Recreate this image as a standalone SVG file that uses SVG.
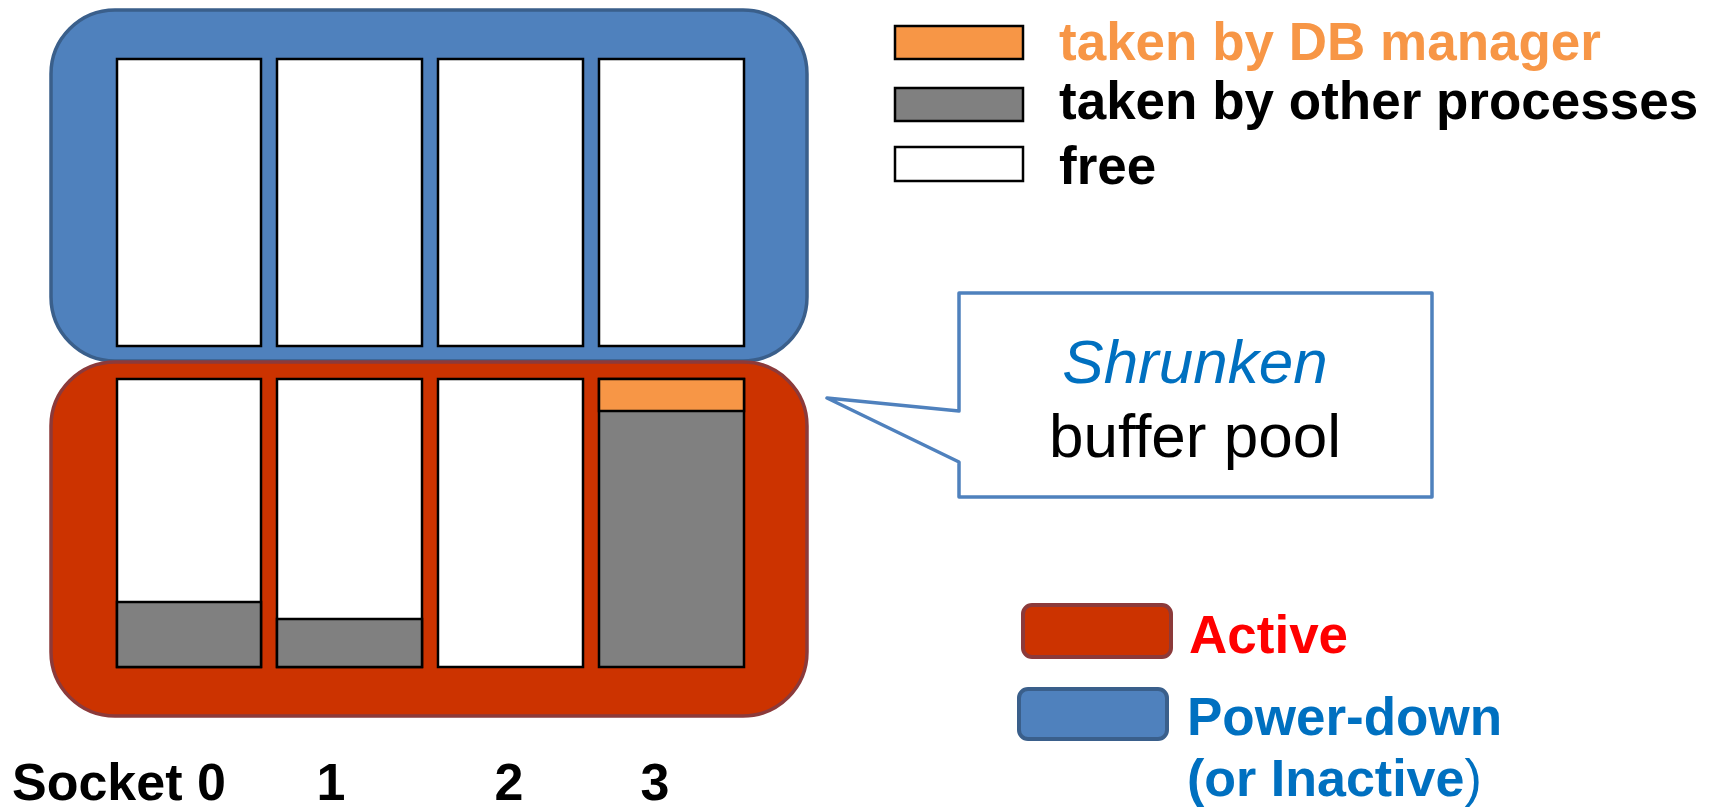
<svg xmlns="http://www.w3.org/2000/svg" width="1714" height="808" viewBox="0 0 1714 808">
<style>
.bar{stroke:#000;stroke-width:2.5}
.free{fill:#fff}
.other{fill:#808080}
.db{fill:#F79646}
.lbl{font-family:"Liberation Sans",Arial,sans-serif;font-weight:bold;font-size:53px}
.sock{font-family:"Liberation Sans",Arial,sans-serif;font-weight:bold;font-size:52px}
.call{font-family:"Liberation Sans",Arial,sans-serif;font-size:62px}
</style>
<rect width="1714" height="808" fill="#fff"/>
<g id="powerdown-region">
<rect x="51" y="10" width="756" height="351" rx="64" ry="64" fill="#4F81BD" stroke="#3A5F8B" stroke-width="3.5"/>
<rect class="bar free" x="117" y="59" width="144" height="287"/>
<rect class="bar free" x="277" y="59" width="145" height="287"/>
<rect class="bar free" x="438" y="59" width="145" height="287"/>
<rect class="bar free" x="599" y="59" width="145" height="287"/>
</g>
<g id="active-region">
<rect x="51" y="362" width="756" height="354" rx="64" ry="64" fill="#CC3300" stroke="#8C3A3A" stroke-width="3.5"/>
<rect class="bar free" x="117" y="379" width="144" height="288"/>
<rect class="bar other" x="117" y="602" width="144" height="65"/>
<rect class="bar free" x="277" y="379" width="145" height="288"/>
<rect class="bar other" x="277" y="619" width="145" height="48"/>
<rect class="bar free" x="438" y="379" width="145" height="288"/>
<rect class="bar other" x="599" y="379" width="145" height="288"/>
<rect class="bar db" x="599" y="379" width="145" height="32"/>
</g>
<g id="legend-usage">
<rect class="bar db" x="895" y="26" width="128" height="33"/>
<rect class="bar other" x="895" y="88" width="128" height="33"/>
<rect class="bar free" x="895" y="147" width="128" height="34"/>
<text class="lbl" x="1059" y="60" fill="#F79646">taken by DB manager</text>
<text class="lbl" x="1059" y="119" fill="#000">taken by other processes</text>
<text class="lbl" x="1059" y="184" fill="#000">free</text>
</g>
<g id="callout">
<path d="M959,293 H1432 V497 H959 V462 L827,398 L959,411 Z" fill="#fff" stroke="#4F81BD" stroke-width="3.5" stroke-linejoin="round"/>
<text class="call" x="1195" y="383" text-anchor="middle" font-style="italic" fill="#0070C0">Shrunken</text>
<text class="call" x="1195" y="457" text-anchor="middle" fill="#000">buffer pool</text>
</g>
<g id="legend-state">
<rect x="1023" y="605" width="148" height="52" rx="9" fill="#CC3300" stroke="#8C3A3A" stroke-width="4"/>
<text class="lbl" x="1189" y="653" fill="#FF0000">Active</text>
<rect x="1019" y="689" width="148" height="50" rx="9" fill="#4F81BD" stroke="#3A5F8B" stroke-width="4"/>
<text class="lbl" x="1187" y="735" fill="#0070C0">Power-down</text>
<text class="sock" x="1187" y="796" fill="#0070C0">(or Inactive<tspan font-weight="normal">)</tspan></text>
</g>
<g id="socket-labels">
<text class="sock" x="12" y="800">Socket 0</text>
<text class="sock" x="331" y="800" text-anchor="middle">1</text>
<text class="sock" x="509" y="800" text-anchor="middle">2</text>
<text class="sock" x="655" y="800" text-anchor="middle">3</text>
</g>
<g id="connectors"></g>
</svg>
